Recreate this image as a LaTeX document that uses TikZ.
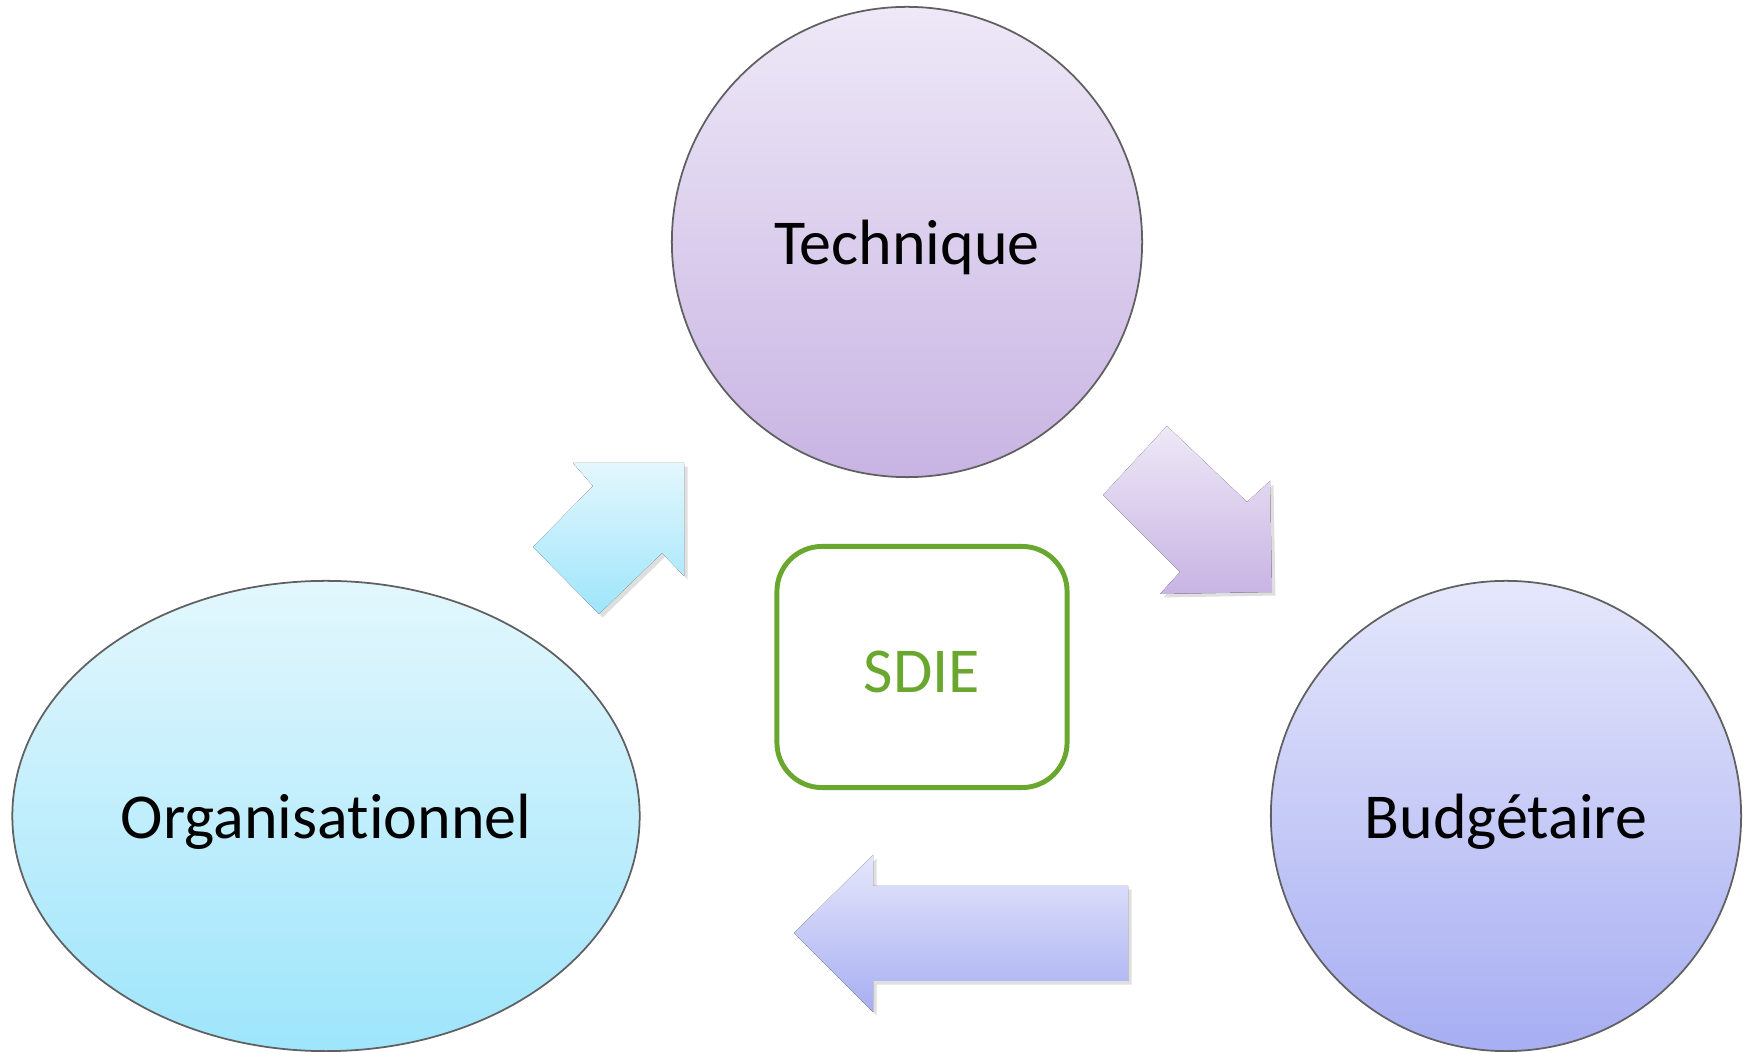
\documentclass[tikz,border=0pt]{standalone}
\usepackage{fontspec}
\setmainfont{Carlito}[Ligatures=NoCommon]
\usetikzlibrary{shapes.geometric, shadows}
\definecolor{techtop}{HTML}{EEE8F7}
\definecolor{techbot}{HTML}{C8B4E3}
\definecolor{orgtop}{HTML}{E3F7FD}
\definecolor{orgbot}{HTML}{9EE5FB}
\definecolor{budtop}{HTML}{E5E7FB}
\definecolor{budbot}{HTML}{A7AEF2}
\definecolor{sdie}{HTML}{6AA72E}

\begin{document}
\begin{tikzpicture}[x=0.01cm, y=-0.01cm,
    bubble/.style={draw=gray!75!black, line width=0.5pt, minimum size=4.7cm, inner sep=0pt,
                   font=\fontsize{18.2}{22}\selectfont, text=black, text depth=0pt},
    flow/.style={drop shadow={shadow xshift=1pt, shadow yshift=-1pt, opacity=0.25}},
    core/.style={draw=sdie, line width=1.4pt, rounded corners=0.45cm, minimum width=2.9cm,
                 minimum height=2.41cm, text=sdie, text height=14.4pt, text depth=0pt,
                 font=\fontsize{18.2}{22}\selectfont},
]
    \useasboundingbox (0,0) rectangle (1750,1052);
    \node[bubble, circle, top color=techtop, bottom color=techbot] (tech) at (907,242) {Technique};
    \node[bubble, ellipse, minimum width=6.27cm, top color=orgtop, bottom color=orgbot] (orga) at (326,816) {Organisationnel};
    \node[bubble, circle, top color=budtop, bottom color=budbot] (budg) at (1506,816) {Budgétaire};
    \node[core] (sdie) at (922,667) {SDIE};
    % block arrows between the three poles
    \fill[flow, top color=orgtop, bottom color=orgbot]
        (684,463) -- (684,576) -- (662,553) -- (599,614) -- (533,547) -- (593,486) -- (573,463) -- cycle;
    \fill[flow, top color=techtop, bottom color=techbot]
        (1272,592) -- (1160,594) -- (1180,572) -- (1103,495) -- (1167,426) -- (1247,502) -- (1270,481) -- cycle;
    \fill[flow, top color=budtop, bottom color=budbot]
        (794,933) -- (873,855) -- (873,886) -- (1128,886) -- (1128,981) -- (873,981) -- (873,1012) -- cycle;
\end{tikzpicture}
\end{document}
